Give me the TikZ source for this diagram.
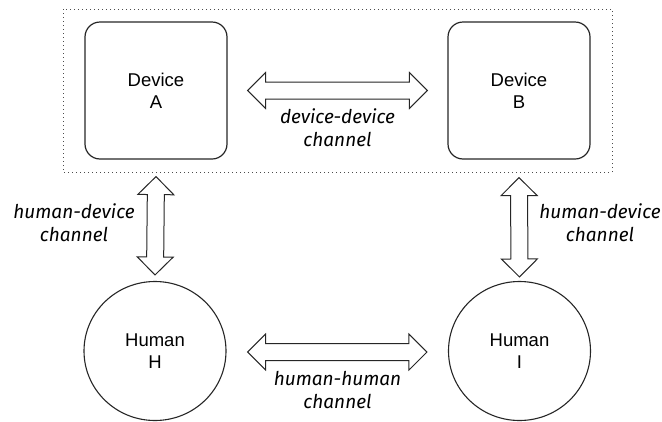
\documentclass[tikz,border=0pt]{standalone}
\usepackage{fontspec}
\setmainfont{Liberation Sans}
\newfontfamily\labelfont{Fira Sans}
\usetikzlibrary{calc,shapes.geometric}

% outline of a two-headed block arrow from #1 to #2
\newcommand{\fatarrow}[2]{%
  \path ($(#1)!18pt!(#2)$) coordinate (fa1) ($(#2)!18pt!(#1)$) coordinate (fa2);
  \draw[fatline] (#1)
    -- ($(fa1)!18pt!90:(#2)$) -- ($(fa1)!8.5pt!90:(#2)$)
    -- ($(fa2)!8.5pt!-90:(#1)$) -- ($(fa2)!18pt!-90:(#1)$)
    -- (#2)
    -- ($(fa2)!18pt!90:(#1)$) -- ($(fa2)!8.5pt!90:(#1)$)
    -- ($(fa1)!8.5pt!-90:(#2)$) -- ($(fa1)!18pt!-90:(#2)$)
    -- cycle;
}

\tikzset{
  device/.style={draw=black!85, line width=1.2pt, rounded corners=15pt,
    minimum width=142pt, minimum height=137pt, align=center,
    font=\fontsize{18.5}{22}\selectfont, inner sep=0pt},
  human/.style={draw=black!85, line width=1.1pt, ellipse,
    minimum width=142pt, minimum height=139pt, align=center,
    font=\fontsize{18.5}{22}\selectfont, inner sep=0pt},
  fatline/.style={draw=black!85, line width=1pt, fill=white, line join=miter},
  chan/.style={align=center, font=\labelfont\itshape\fontsize{19}{22.5}\selectfont, inner sep=0pt},
  frame/.style={draw=black!70, line width=1pt, dash pattern=on 1pt off 3pt}
}

\begin{document}
\begin{tikzpicture}[x=1pt, y=-1pt]
  \useasboundingbox (0,0) rectangle (662,421);

  % dotted enclosure around the two devices
  \draw[frame] (63,9) rectangle (612,172);

  \node[device] (A) at (156,90.5) {Device\\A};
  \node[device] (B) at (519,90.5) {Device\\B};
  \node[human]  (H) at (155,351)  {Human\\H};
  \node[human]  (I) at (519.5,351) {Human\\I};

  % end points of the channel arrows
  \coordinate (ddL) at ($(A.east)+(20,0)$);
  \coordinate (ddR) at ($(B.west)+(-20,0)$);
  \coordinate (hhL) at ($(H.east)+(21,1)$);
  \coordinate (hhR) at ($(I.west)+(-21,1)$);
  \coordinate (hdAt) at ($(A.south)+(0,17)$);
  \coordinate (hdAb) at ($(H.north)+(0,-6)$);
  \coordinate (hdBt) at ($(B.south)+(0,18)$);
  \coordinate (hdBb) at ($(I.north)+(0,-4)$);

  \fatarrow{ddL}{ddR}
  \fatarrow{hhL}{hhR}
  \fatarrow{hdAt}{hdAb}
  \fatarrow{hdBt}{hdBb}

  % channel labels (anchored on the baseline of their last line)
  \node[chan, anchor=base] (ddlab) at (337.5,146) {device-device\\channel};
  \node[chan, anchor=base] (hhlab) at (337.5,408) {human-human\\channel};
  \node[chan, anchor=base] (hdAlab) at (74,241) {human-device\\channel};
  \node[chan, anchor=base] (hdBlab) at (600,241) {human-device\\channel};
\end{tikzpicture}
\end{document}
